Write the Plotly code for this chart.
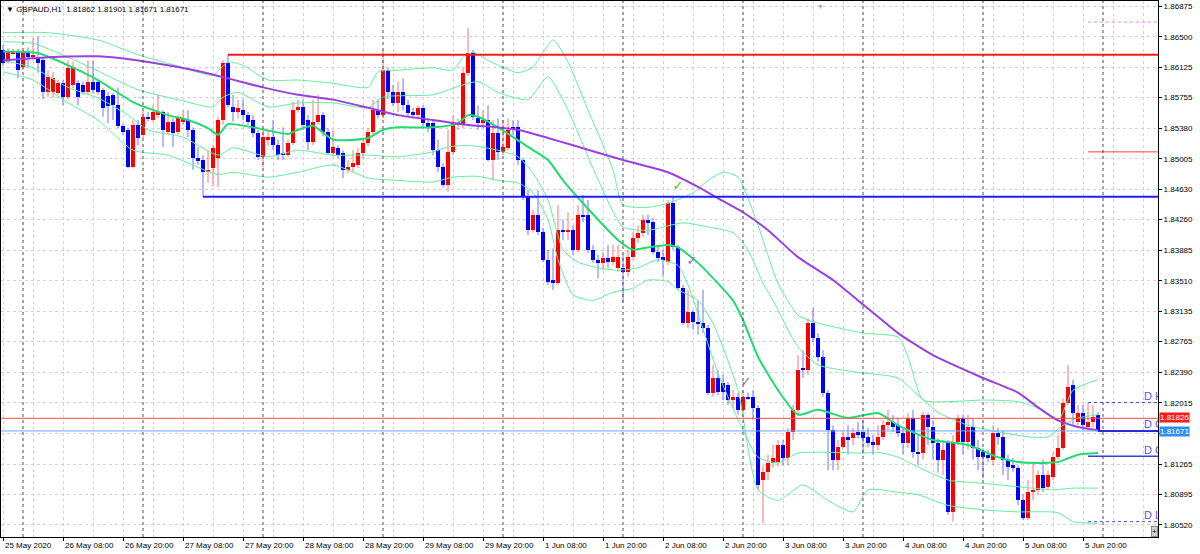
import pandas as pd
import plotly.graph_objects as go

# ---------------- data ----------------
SYMBOL_TEXT = "GBPAUD,H1  1.81862 1.81901 1.81671 1.81671"

TIMES = list(pd.date_range("2020-05-25 20:00", "2020-05-29 23:00", freq="h")) + \
        list(pd.date_range("2020-06-01 00:00", "2020-06-05 23:00", freq="h"))

OPEN = [
1.8634, 1.8619, 1.8630, 1.8632, 1.8613, 1.8630, 1.8625, 1.8625, 1.8621, 1.8582,
1.8582, 1.8581, 1.8593, 1.8576, 1.8591, 1.8593, 1.8591, 1.8582, 1.8595, 1.8595,
1.8585, 1.8577, 1.8579, 1.8566, 1.8541, 1.8536, 1.8490, 1.8542, 1.8530, 1.8552,
1.8548, 1.8554, 1.8558, 1.8533, 1.8546, 1.8533, 1.8546, 1.8548, 1.8536, 1.8501,
1.8499, 1.8484, 1.8489, 1.8501, 1.8548, 1.8618, 1.8564, 1.8558, 1.8560, 1.8554,
1.8548, 1.8532, 1.8503, 1.8524, 1.8527, 1.8517, 1.8508, 1.8505, 1.8520, 1.8560,
1.8564, 1.8548, 1.8521, 1.8546, 1.8554, 1.8533, 1.8508, 1.8514, 1.8508, 1.8487,
1.8490, 1.8493, 1.8508, 1.8520, 1.8533, 1.8560, 1.8554, 1.8609, 1.8582, 1.8569,
1.8582, 1.8566, 1.8558, 1.8554, 1.8563, 1.8544, 1.8544, 1.8511, 1.8490, 1.8468,
1.8509, 1.8542, 1.8542, 1.8606, 1.8630, 1.8550, 1.8544, 1.8548, 1.8499, 1.8532,
1.8509, 1.8514, 1.8539, 1.8539, 1.8499, 1.8454, 1.8413, 1.8432, 1.8411, 1.8377,
1.8352, 1.8348, 1.8413, 1.8411, 1.8413, 1.8389, 1.8432, 1.8432, 1.8389, 1.8377,
1.8373, 1.8379, 1.8374, 1.8367, 1.8367, 1.8362, 1.8380, 1.8403, 1.8410, 1.8426,
1.8423, 1.8386, 1.8380, 1.8374, 1.8446, 1.8392, 1.8342, 1.8299, 1.8313, 1.8301,
1.8299, 1.8293, 1.8214, 1.8232, 1.8226, 1.8223, 1.8205, 1.8209, 1.8193, 1.8209,
1.8209, 1.8195, 1.8107, 1.8117, 1.8128, 1.8129, 1.8150, 1.8134, 1.8166, 1.8193,
1.8244, 1.8242, 1.8299, 1.8281, 1.8258, 1.8214, 1.8168, 1.8132, 1.8147, 1.8160,
1.8158, 1.8166, 1.8166, 1.8160, 1.8154, 1.8150, 1.8160, 1.8174, 1.8178, 1.8174,
1.8165, 1.8152, 1.8183, 1.8141, 1.8140, 1.8187, 1.8172, 1.8152, 1.8132, 1.8154,
1.8068, 1.8154, 1.8183, 1.8154, 1.8172, 1.8146, 1.8141, 1.8138, 1.8132, 1.8165,
1.8160, 1.8132, 1.8125, 1.8122, 1.8082, 1.8060, 1.8092, 1.8095, 1.8113, 1.8098,
1.8111, 1.8135, 1.8146, 1.8201, 1.8223, 1.8178, 1.8189, 1.8172, 1.8178, 1.81862,
]
HIGH = [
1.8640, 1.8636, 1.8635, 1.8635, 1.8634, 1.8637, 1.8648, 1.8650, 1.8624, 1.8609,
1.8607, 1.8597, 1.8597, 1.8621, 1.8619, 1.8597, 1.8595, 1.8621, 1.8621, 1.8597,
1.8587, 1.8582, 1.8581, 1.8588, 1.8543, 1.8538, 1.8548, 1.8548, 1.8560, 1.8558,
1.8566, 1.8579, 1.8560, 1.8558, 1.8550, 1.8554, 1.8560, 1.8560, 1.8539, 1.8515,
1.8505, 1.8511, 1.8517, 1.8552, 1.8621, 1.8628, 1.8579, 1.8573, 1.8573, 1.8558,
1.8554, 1.8536, 1.8536, 1.8536, 1.8548, 1.8524, 1.8539, 1.8524, 1.8570, 1.8573,
1.8573, 1.8554, 1.8573, 1.8579, 1.8558, 1.8538, 1.8536, 1.8517, 1.8511, 1.8499,
1.8511, 1.8514, 1.8524, 1.8538, 1.8573, 1.8573, 1.8634, 1.8612, 1.8591, 1.8595,
1.8599, 1.8573, 1.8563, 1.8566, 1.8566, 1.8550, 1.8548, 1.8524, 1.8495, 1.8536,
1.8554, 1.8550, 1.8612, 1.8661, 1.8634, 1.8566, 1.8560, 1.8566, 1.8548, 1.8550,
1.8548, 1.8550, 1.8548, 1.8548, 1.8501, 1.8462, 1.8438, 1.8462, 1.8416, 1.8389,
1.8391, 1.8444, 1.8426, 1.8435, 1.8419, 1.8444, 1.8456, 1.8450, 1.8395, 1.8383,
1.8386, 1.8395, 1.8395, 1.8395, 1.8383, 1.8389, 1.8411, 1.8419, 1.8432, 1.8432,
1.8428, 1.8395, 1.8389, 1.8450, 1.8454, 1.8395, 1.8346, 1.8340, 1.8315, 1.8327,
1.8340, 1.8297, 1.8248, 1.8242, 1.8236, 1.8227, 1.8217, 1.8214, 1.8217, 1.8214,
1.8217, 1.8199, 1.8125, 1.8138, 1.8150, 1.8156, 1.8156, 1.8171, 1.8199, 1.8260,
1.8266, 1.8305, 1.8318, 1.8287, 1.8266, 1.8217, 1.8174, 1.8156, 1.8168, 1.8174,
1.8171, 1.8178, 1.8180, 1.8171, 1.8162, 1.8174, 1.8180, 1.8193, 1.8187, 1.8183,
1.8171, 1.8189, 1.8193, 1.8162, 1.8190, 1.8189, 1.8180, 1.8158, 1.8156, 1.8156,
1.8162, 1.8187, 1.8187, 1.8187, 1.8183, 1.8156, 1.8146, 1.8144, 1.8174, 1.8171,
1.8168, 1.8138, 1.8134, 1.8125, 1.8089, 1.8107, 1.8129, 1.8119, 1.8132, 1.8119,
1.8141, 1.8162, 1.8207, 1.8248, 1.8230, 1.8199, 1.8199, 1.8201, 1.8199, 1.81901,
]
LOW = [
1.8614, 1.8617, 1.8628, 1.8599, 1.8609, 1.8612, 1.8621, 1.8606, 1.8573, 1.8576,
1.8575, 1.8579, 1.8566, 1.8573, 1.8587, 1.8566, 1.8579, 1.8579, 1.8581, 1.8579,
1.8552, 1.8544, 1.8548, 1.8538, 1.8530, 1.8489, 1.8489, 1.8517, 1.8526, 1.8546,
1.8546, 1.8550, 1.8515, 1.8530, 1.8515, 1.8530, 1.8542, 1.8527, 1.8487, 1.8493,
1.8454, 1.8471, 1.8467, 1.8466, 1.8542, 1.8563, 1.8546, 1.8550, 1.8548, 1.8542,
1.8527, 1.8499, 1.8490, 1.8517, 1.8511, 1.8499, 1.8499, 1.8503, 1.8517, 1.8557,
1.8536, 1.8511, 1.8517, 1.8542, 1.8528, 1.8505, 1.8503, 1.8501, 1.8477, 1.8483,
1.8484, 1.8489, 1.8501, 1.8516, 1.8530, 1.8550, 1.8550, 1.8573, 1.8565, 1.8558,
1.8560, 1.8552, 1.8550, 1.8550, 1.8539, 1.8533, 1.8505, 1.8484, 1.8465, 1.8460,
1.8505, 1.8536, 1.8538, 1.8602, 1.8548, 1.8536, 1.8538, 1.8497, 1.8474, 1.8499,
1.8505, 1.8511, 1.8530, 1.8493, 1.8450, 1.8407, 1.8410, 1.8407, 1.8374, 1.8346,
1.8340, 1.8346, 1.8401, 1.8401, 1.8383, 1.8386, 1.8423, 1.8385, 1.8373, 1.8354,
1.8364, 1.8367, 1.8370, 1.8362, 1.8325, 1.8356, 1.8377, 1.8397, 1.8405, 1.8407,
1.8383, 1.8374, 1.8356, 1.8370, 1.8389, 1.8340, 1.8297, 1.8293, 1.8291, 1.8285,
1.8287, 1.8211, 1.8209, 1.8211, 1.8205, 1.8199, 1.8195, 1.8187, 1.8189, 1.8205,
1.8180, 1.8095, 1.8054, 1.8107, 1.8122, 1.8124, 1.8125, 1.8125, 1.8156, 1.8187,
1.8232, 1.8236, 1.8276, 1.8252, 1.8209, 1.8119, 1.8119, 1.8119, 1.8144, 1.8138,
1.8150, 1.8158, 1.8141, 1.8147, 1.8138, 1.8144, 1.8156, 1.8168, 1.8166, 1.8160,
1.8138, 1.8146, 1.8134, 1.8125, 1.8132, 1.8150, 1.8132, 1.8116, 1.8113, 1.8064,
1.8056, 1.8150, 1.8138, 1.8144, 1.8132, 1.8119, 1.8109, 1.8129, 1.8125, 1.8150,
1.8113, 1.8107, 1.8117, 1.8076, 1.8058, 1.8058, 1.8082, 1.8089, 1.8092, 1.8095,
1.8107, 1.8132, 1.8144, 1.8199, 1.8174, 1.8174, 1.8168, 1.8168, 1.8171, 1.81671,
]
CLOSE = [
1.8618, 1.8632, 1.8632, 1.8609, 1.8631, 1.8625, 1.8628, 1.8618, 1.8582, 1.8601,
1.8599, 1.8593, 1.8576, 1.8612, 1.8613, 1.8576, 1.8582, 1.8595, 1.8585, 1.8582,
1.8563, 1.8565, 1.8566, 1.8541, 1.8533, 1.8490, 1.8542, 1.8526, 1.8552, 1.8549,
1.8558, 1.8558, 1.8536, 1.8546, 1.8532, 1.8550, 1.8550, 1.8536, 1.8501, 1.8499,
1.8484, 1.8487, 1.8514, 1.8548, 1.8618, 1.8566, 1.8558, 1.8563, 1.8554, 1.8546,
1.8532, 1.8503, 1.8527, 1.8527, 1.8517, 1.8505, 1.8505, 1.8520, 1.8560, 1.8564,
1.8542, 1.8521, 1.8546, 1.8554, 1.8533, 1.8508, 1.8515, 1.8505, 1.8487, 1.8490,
1.8495, 1.8508, 1.8520, 1.8533, 1.8560, 1.8554, 1.8609, 1.8582, 1.8569, 1.8582,
1.8566, 1.8557, 1.8554, 1.8563, 1.8544, 1.8539, 1.8511, 1.8490, 1.8468, 1.8509,
1.8544, 1.8544, 1.8606, 1.8630, 1.8552, 1.8544, 1.8548, 1.8499, 1.8532, 1.8509,
1.8515, 1.8536, 1.8536, 1.8499, 1.8454, 1.8413, 1.8432, 1.8411, 1.8377, 1.8350,
1.8348, 1.8413, 1.8411, 1.8413, 1.8389, 1.8432, 1.8429, 1.8389, 1.8377, 1.8373,
1.8379, 1.8374, 1.8380, 1.8380, 1.8362, 1.8380, 1.8403, 1.8410, 1.8426, 1.8422,
1.8386, 1.8379, 1.8377, 1.8446, 1.8392, 1.8342, 1.8299, 1.8313, 1.8301, 1.8299,
1.8293, 1.8214, 1.8232, 1.8215, 1.8215, 1.8205, 1.8209, 1.8193, 1.8209, 1.8207,
1.8195, 1.8101, 1.8117, 1.8128, 1.8134, 1.8150, 1.8134, 1.8166, 1.8193, 1.8242,
1.8242, 1.8299, 1.8281, 1.8258, 1.8214, 1.8168, 1.8132, 1.8147, 1.8160, 1.8156,
1.8165, 1.8162, 1.8158, 1.8152, 1.8150, 1.8160, 1.8174, 1.8178, 1.8172, 1.8165,
1.8152, 1.8183, 1.8141, 1.8140, 1.8187, 1.8172, 1.8152, 1.8132, 1.8144, 1.8068,
1.8154, 1.8183, 1.8154, 1.8172, 1.8146, 1.8135, 1.8135, 1.8134, 1.8165, 1.8160,
1.8132, 1.8123, 1.8122, 1.8082, 1.8060, 1.8092, 1.8095, 1.8113, 1.8097, 1.8113,
1.8135, 1.8146, 1.8201, 1.8221, 1.8189, 1.8189, 1.8174, 1.8178, 1.8184, 1.81671,
]

# indicator lines, sampled at bar indices
MA_SLOW_X = [0, 9, 19, 27, 35, 39, 45, 52, 59, 66, 73, 79, 86, 93, 99, 103, 109, 114, 119, 124,
             133, 139, 143, 148, 153, 159, 166, 171, 175, 179, 186, 196, 203, 207, 211, 215, 219]
MA_SLOW_Y = [1.8621, 1.8625, 1.8626, 1.8621, 1.8613, 1.8608, 1.8599, 1.8588, 1.8579, 1.8573,
             1.8563, 1.8554, 1.8548, 1.8542, 1.8539, 1.8536, 1.8526, 1.8517, 1.8508, 1.8499,
             1.8484, 1.8466, 1.8452, 1.8435, 1.8413, 1.8380, 1.8352, 1.8327, 1.8307, 1.8287,
             1.8260, 1.8232, 1.8214, 1.8196, 1.8180, 1.8172, 1.8168]

MID_X = [0, 7, 13, 19, 26, 33, 37, 41, 43, 45, 50, 57, 59, 62, 66, 73, 76, 79, 86, 91, 93, 95, 99,
         105, 109, 112, 116, 123, 126, 128, 133, 135, 139, 146, 148, 151, 155, 159, 163, 169, 175,
         179, 186, 193, 199, 203, 208, 211, 215, 219]
MID_Y = [1.8632, 1.8630, 1.8615, 1.8597, 1.8570, 1.8554, 1.8548, 1.8538, 1.8530, 1.8543, 1.8539,
         1.8531, 1.8536, 1.8541, 1.8524, 1.8526, 1.8536, 1.8539, 1.8539, 1.8544, 1.8554, 1.8552,
         1.8539, 1.8515, 1.8499, 1.8474, 1.8446, 1.8401, 1.8389, 1.8391, 1.8395, 1.8392, 1.8373,
         1.8327, 1.8303, 1.8258, 1.8217, 1.8187, 1.8193, 1.8183, 1.8189, 1.8174, 1.8156, 1.8150,
         1.8135, 1.8129, 1.8128, 1.8129, 1.8138, 1.8140]

BAND_OU_X = [0, 9, 19, 27, 35, 42, 45, 48, 53, 59, 66, 73, 75, 79, 86, 90, 92, 94, 97, 103, 106,
             110, 113, 117, 119, 122, 124, 129, 133, 138, 141, 144, 147, 151, 155, 159, 162, 172,
             179, 181, 184, 189, 196, 203, 207, 211, 214, 219]
BAND_OU_Y = [1.8655, 1.8655, 1.8646, 1.8628, 1.8614, 1.8603, 1.8619, 1.8615, 1.8597, 1.8597,
             1.8593, 1.8588, 1.8607, 1.8609, 1.8612, 1.8609, 1.8625, 1.8631, 1.8621, 1.8606,
             1.8613, 1.8646, 1.8619, 1.8560, 1.8532, 1.8487, 1.8444, 1.8441, 1.8446, 1.8459,
             1.8474, 1.8484, 1.8478, 1.8419, 1.8348, 1.8309, 1.8301, 1.8287, 1.8282, 1.8258,
             1.8205, 1.8203, 1.8205, 1.8203, 1.8195, 1.8180, 1.8217, 1.8230]

BAND_IU_X = [0, 6, 13, 19, 27, 35, 42, 44, 47, 53, 59, 66, 73, 76, 86, 92, 95, 99, 105, 109, 113,
             119, 124, 129, 136, 141, 146, 149, 152, 154, 157, 159, 163, 171, 179, 183, 187, 193,
             199, 205, 209, 212, 215, 219]
BAND_IU_Y = [1.8644, 1.8642, 1.8625, 1.8608, 1.8585, 1.8573, 1.8564, 1.8576, 1.8582, 1.8564,
             1.8569, 1.8569, 1.8563, 1.8576, 1.8579, 1.8591, 1.8595, 1.8582, 1.8573, 1.8601,
             1.8560, 1.8475, 1.8417, 1.8413, 1.8422, 1.8417, 1.8410, 1.8389, 1.8348, 1.8327,
             1.8291, 1.8270, 1.8248, 1.8239, 1.8232, 1.8211, 1.8190, 1.8174, 1.8166, 1.8160,
             1.8160, 1.8174, 1.8183, 1.8187]

BAND_IL_X = [0, 6, 13, 19, 25, 29, 36, 43, 46, 53, 59, 66, 73, 79, 86, 89, 93, 99, 103, 106, 109,
             112, 115, 119, 123, 127, 131, 135, 137, 143, 148, 151, 155, 159, 165, 172, 175, 179,
             183, 189, 196, 206, 210, 214, 219]
BAND_IL_Y = [1.8621, 1.8612, 1.8588, 1.8575, 1.8554, 1.8536, 1.8527, 1.8505, 1.8514, 1.8503,
             1.8511, 1.8505, 1.8505, 1.8503, 1.8509, 1.8515, 1.8517, 1.8511, 1.8503, 1.8483,
             1.8450, 1.8389, 1.8374, 1.8367, 1.8364, 1.8367, 1.8377, 1.8370, 1.8346, 1.8238,
             1.8168, 1.8135, 1.8128, 1.8140, 1.8141, 1.8140, 1.8141, 1.8135, 1.8123, 1.8107,
             1.8103, 1.8097, 1.8095, 1.8097, 1.8097]

BAND_OL_X = [0, 6, 13, 19, 26, 33, 39, 43, 46, 53, 59, 66, 73, 79, 86, 90, 95, 99, 103, 106, 109,
             111, 114, 118, 122, 126, 129, 133, 135, 139, 142, 147, 151, 155, 160, 165, 170, 173,
             179, 183, 189, 197, 203, 211, 214, 219]
BAND_OL_Y = [1.8607, 1.8597, 1.8569, 1.8548, 1.8511, 1.8505, 1.8490, 1.8481, 1.8484, 1.8478,
             1.8484, 1.8493, 1.8477, 1.8474, 1.8472, 1.8478, 1.8479, 1.8474, 1.8471, 1.8459,
             1.8426, 1.8377, 1.8334, 1.8327, 1.8337, 1.8342, 1.8352, 1.8350, 1.8340, 1.8327,
             1.8299, 1.8217, 1.8095, 1.8082, 1.8101, 1.8082, 1.8068, 1.8095, 1.8092, 1.8089,
             1.8076, 1.8070, 1.8068, 1.8067, 1.8056, 1.8054]

# horizontal objects: (price, starting bar)
RESISTANCE = 1.8628
RESISTANCE_START = 45
SUPPORT = 1.8454
SUPPORT_START = 40
SHORT_RED = 1.8509
SHORT_VIOLET = 1.8668
ASK_PRICE = 1.81826
BID_PRICE = 1.81671
DAY_HIGH = 1.8202
DAY_OPEN = 1.81671
DAY_CLOSE = 1.8136
DAY_LOW = 1.8056
DAY_LINES_START = 217
DAY_OPEN_START = 219
DAY_LABELS = ["D H", "D O", "D C", "D L"]
DAY_LABEL_BAR = 228.2

CHECK_GREEN = (135, 1.8466)
CHECK_PURPLE = [(137.8, 1.8374), (148.6, 1.8226)]

Y_TICKS = [1.86875, 1.86500, 1.86125, 1.85755, 1.85380, 1.85005, 1.84630, 1.84260, 1.83885,
           1.83510, 1.83135, 1.82765, 1.82390, 1.82015, 1.81640, 1.81265, 1.80895, 1.80520]
Y_HIDDEN = [1.81640]

TICK_LABELS = ["25 May 2020", "26 May 08:00", "26 May 20:00", "27 May 08:00", "27 May 20:00",
               "28 May 08:00", "28 May 20:00", "29 May 08:00", "29 May 20:00", "1 Jun 08:00",
               "1 Jun 20:00", "2 Jun 08:00", "2 Jun 20:00", "3 Jun 08:00", "3 Jun 20:00",
               "4 Jun 08:00", "4 Jun 20:00", "5 Jun 08:00", "5 Jun 20:00"]

# ---------------- styling ----------------
UP_COL = "#ff0000"
DN_COL = "#0000ff"
UP_WICK = "rgba(255,0,0,0.55)"
DN_WICK = "rgba(0,0,255,0.55)"
BAND_COL = "#62f09c"
MID_COL = "#20dc6e"
SLOW_COL = "#9a40e2"
GRID_COL = "#d4d4d4"
FONT = "Liberation Sans"
MIN_BODY = 0.00011
X_MIN, X_MAX = -0.4, 231
Y_MIN, Y_MAX = 1.80372, 1.86938

n = len(OPEN)
idx = list(range(n))
up = [CLOSE[i] >= OPEN[i] for i in idx]

fig = go.Figure()

# wicks
for is_up, col in ((True, UP_WICK), (False, DN_WICK)):
    wx, wy = [], []
    for i in idx:
        if up[i] == is_up:
            wx += [i, i, None]
            wy += [LOW[i], HIGH[i], None]
    fig.add_trace(go.Scatter(x=wx, y=wy, mode="lines", line=dict(color=col, width=1),
                             hoverinfo="skip"))

# bodies
for is_up, col in ((True, UP_COL), (False, DN_COL)):
    bx = [i for i in idx if up[i] == is_up]
    base = [min(OPEN[i], CLOSE[i]) for i in bx]
    hgt = [max(abs(CLOSE[i] - OPEN[i]), MIN_BODY) for i in bx]
    fig.add_trace(go.Bar(x=bx, y=hgt, base=base, width=0.62, marker=dict(color=col, line=dict(width=0)),
                         hoverinfo="skip"))

# bands & averages
for xs, ys in ((BAND_OU_X, BAND_OU_Y), (BAND_IU_X, BAND_IU_Y), (BAND_IL_X, BAND_IL_Y), (BAND_OL_X, BAND_OL_Y)):
    fig.add_trace(go.Scatter(x=xs, y=ys, mode="lines", line=dict(color=BAND_COL, width=1, shape="spline", smoothing=0.6),
                             hoverinfo="skip"))
fig.add_trace(go.Scatter(x=MID_X, y=MID_Y, mode="lines", line=dict(color=MID_COL, width=2, shape="spline", smoothing=0.6),
                         hoverinfo="skip"))
fig.add_trace(go.Scatter(x=MA_SLOW_X, y=MA_SLOW_Y, mode="lines", line=dict(color=SLOW_COL, width=2, shape="spline", smoothing=0.6),
                         hoverinfo="skip"))

# horizontal objects
def hline(y, x0, color, width=1, dash="solid"):
    fig.add_trace(go.Scatter(x=[x0, X_MAX], y=[y, y], mode="lines",
                             line=dict(color=color, width=width, dash=dash), hoverinfo="skip"))

hline(ASK_PRICE, X_MIN, "#ff4c4c", 1)
hline(BID_PRICE, X_MIN, "#6aa8ff", 1)
hline(RESISTANCE, RESISTANCE_START, "#ff1a1a", 2)
hline(SUPPORT, SUPPORT_START, "#2020ff", 2)
hline(SHORT_RED, DAY_LINES_START, "#ff4040", 1)
hline(SHORT_VIOLET, DAY_LINES_START, "#e08ae8", 1, "dot")
hline(DAY_HIGH, DAY_LINES_START, "#4a4ae8", 1, "dot")
hline(DAY_OPEN, DAY_OPEN_START, "#2a2ae0", 2)
hline(DAY_CLOSE, DAY_LINES_START, "#3a3ae0", 1.5)
hline(DAY_LOW, DAY_LINES_START, "#4a4ae8", 1, "dot")

# D labels (clipped by plot area like the original)
fig.add_trace(go.Scatter(x=[DAY_LABEL_BAR] * 4, y=[DAY_HIGH, DAY_OPEN, DAY_CLOSE, DAY_LOW], mode="text",
                         text=DAY_LABELS, textposition="top right",
                         textfont=dict(color="#5a5ae6", size=11, family=FONT), cliponaxis=True,
                         hoverinfo="skip"))

# check marks
fig.add_trace(go.Scatter(x=[CHECK_GREEN[0]], y=[CHECK_GREEN[1]], mode="text", text=["✓"],
                         textfont=dict(color="#3cc83c", size=13, family="DejaVu Sans"), hoverinfo="skip"))
fig.add_trace(go.Scatter(x=[p[0] for p in CHECK_PURPLE], y=[p[1] for p in CHECK_PURPLE], mode="text",
                         text=["✓"] * len(CHECK_PURPLE),
                         textfont=dict(color="#a060d8", size=13, family="DejaVu Sans"), hoverinfo="skip"))

# day separators
sep_idx = [i for i, t in enumerate(TIMES) if t.hour == 0] + [n]
shapes = [dict(type="line", xref="x", yref="paper", x0=s, x1=s, y0=0, y1=1,
               line=dict(color="#4a4a4a", width=1, dash="dot"), layer="above") for s in sep_idx]

# x tick positions (labels at 08:00 / 20:00)
tick_idx = [i for i, t in enumerate(TIMES) if t.hour in (8, 20)]

annotations = []
for i, lab in zip(tick_idx, TICK_LABELS):
    annotations.append(dict(x=i, xref="x", y=0, yref="paper", text=lab, showarrow=False,
                            xanchor="left", yanchor="top", yshift=-2, xshift=0,
                            font=dict(family=FONT, size=8, color="#000")))
annotations.append(dict(x=0, xref="paper", y=1, yref="paper", text="▼ " + SYMBOL_TEXT, showarrow=False,
                        xanchor="left", yanchor="top", xshift=3, yshift=-2,
                        font=dict(family=FONT, size=8, color="#000")))
annotations.append(dict(x=1, xref="paper", y=ASK_PRICE, yref="y", text="1.81826", showarrow=False,
                        xanchor="left", xshift=1, yshift=1, bgcolor="#ff1a1a", borderpad=0,
                        font=dict(family=FONT, size=8, color="#fff")))
annotations.append(dict(x=1, xref="paper", y=BID_PRICE, yref="y", text="1.81671", showarrow=False,
                        xanchor="left", xshift=1, yshift=-1, bgcolor="#2f8ff0", borderpad=0,
                        font=dict(family=FONT, size=8, color="#fff")))
annotations.append(dict(x=163.4, xref="x", y=1, yref="paper", text="▼", showarrow=False,
                        yanchor="top", yshift=1, font=dict(size=7, color="#a8a8a8")))
annotations.append(dict(x=1, xref="paper", y=0, yref="paper", text="+", showarrow=False,
                        xanchor="right", yanchor="bottom", bgcolor="#d2d2d2", bordercolor="#8a8a8a",
                        borderwidth=1, borderpad=0, font=dict(size=8, color="#000", family=FONT)))

fig.update_layout(
    width=1200, height=554,
    margin=dict(l=1, r=42, t=1, b=17),
    paper_bgcolor="#ffffff", plot_bgcolor="#ffffff",
    showlegend=False, barmode="overlay", bargap=0,
    shapes=shapes, annotations=annotations,
    xaxis=dict(range=[X_MIN, X_MAX], tickvals=tick_idx, ticktext=[""] * len(tick_idx),
               ticks="outside", ticklen=3, tickcolor="#000",
               showgrid=True, gridcolor=GRID_COL, griddash="dot", gridwidth=1,
               minor=dict(dtick=6, tick0=0, showgrid=True, gridcolor=GRID_COL, griddash="dot", ticks=""),
               showline=True, mirror=True, linecolor="#000", linewidth=1, zeroline=False,
               fixedrange=True),
    yaxis=dict(range=[Y_MIN, Y_MAX], side="right", tickvals=Y_TICKS,
               ticktext=["" if v in Y_HIDDEN else f"{v:.5f}" for v in Y_TICKS],
               ticks="outside", ticklen=3, tickcolor="#000",
               tickfont=dict(family=FONT, size=8, color="#000"),
               showgrid=True, gridcolor=GRID_COL, griddash="dot", gridwidth=1,
               showline=True, mirror=True, linecolor="#000", linewidth=1, zeroline=False,
               fixedrange=True),
)

fig.write_html("out.html")
